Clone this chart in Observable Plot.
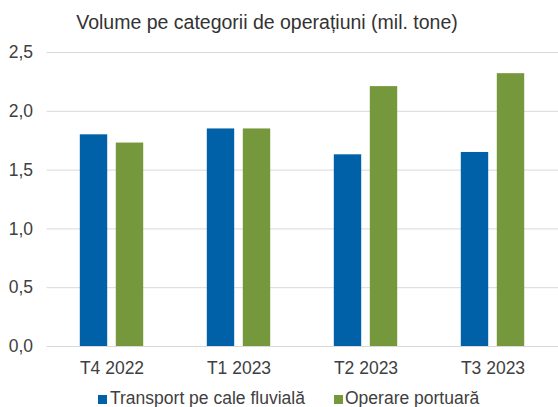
<!DOCTYPE html>
<html>
<head>
<meta charset="utf-8">
<script src="https://cdn.jsdelivr.net/npm/d3@7"></script>
<script src="https://cdn.jsdelivr.net/npm/@observablehq/plot@0.6"></script>
<style>
  html, body { margin: 0; padding: 0; background: #fff; }
  #wrap { position: relative; width: 558px; height: 407px; overflow: hidden; font-family: "Liberation Sans", Arial, sans-serif; color: #404040; }
  #title { position: absolute; left: 0; top: 0; width: 534px; height: 44px; line-height: 44px; text-align: center; font-size: 19.5px; color: #333; white-space: nowrap; }
  #chart { position: absolute; left: 0; top: 0; }
  .lg-item { position: absolute; top: 390px; height: 16px; line-height: 16px; font-size: 17.5px; white-space: nowrap; color: #404040; }
  .lg-sw { position: absolute; top: 395px; width: 9px; height: 9px; }
</style>
</head>
<body>
<div id="wrap">
  <div id="chart"></div>
  <div id="title">Volume pe categorii de operațiuni (mil. tone)</div>
</div>
<script>
const categories = ["T4 2022", "T1 2023", "T2 2023", "T3 2023"];
const seriesNames = ["Transport pe cale fluvială", "Operare portuară"];
const transportValues = [1.80, 1.85, 1.63, 1.65];
const operareValues = [1.73, 1.85, 2.21, 2.32];
const yTicks = [0, 0.5, 1.0, 1.5, 2.0, 2.5];
const seriesColors = ["#0060A8", "#76983C"];

const transportData = categories.map((c, i) => ({category: c, value: transportValues[i]}));
const operareData = categories.map((c, i) => ({category: c, value: operareValues[i]}));
const fmt = d => d3.format(".1f")(d).replace(".", ",");

const chart = Plot.plot({
  width: 558,
  height: 385,
  marginLeft: 46.5,
  marginRight: 0,
  marginTop: 52,
  marginBottom: 39,
  style: {fontFamily: "'Liberation Sans', Arial, sans-serif", fontSize: "17.5px", color: "#404040", background: "transparent", overflow: "visible"},
  x: {domain: categories, padding: 0, label: null, tickSize: 0, tickPadding: 15},
  y: {domain: [0, 2.5], ticks: yTicks, tickFormat: fmt, label: null, tickSize: 0, tickPadding: 14},
  marks: [
    Plot.ruleY(yTicks, {stroke: "#d9d9d9", strokeWidth: 1}),
    Plot.barY(transportData, {x: "category", y: "value", fill: seriesColors[0], insetLeft: 31.8, insetRight: 67.8}),
    Plot.barY(operareData, {x: "category", y: "value", fill: seriesColors[1], insetLeft: 67.8, insetRight: 31.8})
  ]
});
document.getElementById("chart").appendChild(chart);

// Legend
const wrap = document.getElementById("wrap");
const legendPos = [{sw: 98, tx: 110}, {sw: 334, tx: 345}];
seriesNames.forEach((name, i) => {
  const sw = document.createElement("div");
  sw.className = "lg-sw";
  sw.style.left = legendPos[i].sw + "px";
  sw.style.background = seriesColors[i];
  wrap.appendChild(sw);
  const t = document.createElement("div");
  t.className = "lg-item";
  t.style.left = legendPos[i].tx + "px";
  t.textContent = name;
  wrap.appendChild(t);
});
</script>
</body>
</html>
